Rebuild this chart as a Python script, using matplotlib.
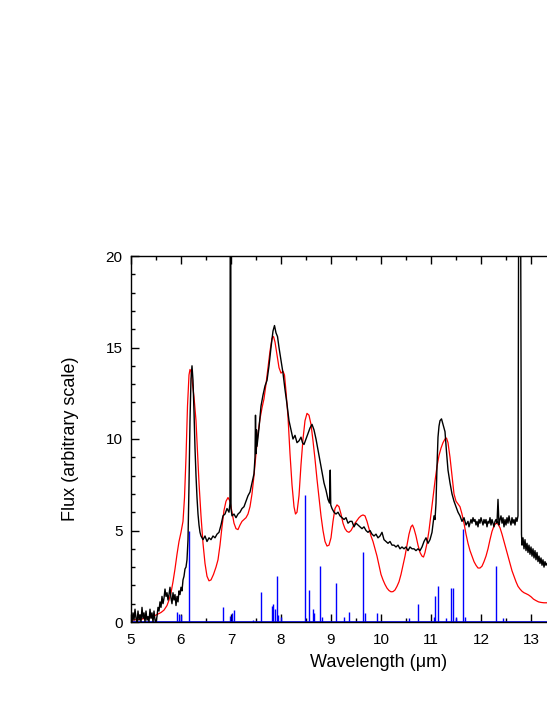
import matplotlib
matplotlib.use("Agg")
import matplotlib.pyplot as plt
from matplotlib.ticker import MultipleLocator

plt.rcParams['font.family'] = ['Liberation Sans', 'DejaVu Sans']

# observed spectrum (black)
obs_wl = [5.00, 5.02, 5.04, 5.06, 5.08, 5.10, 5.12, 5.14, 5.16, 5.18, 5.20, 5.22, 5.24, 5.26, 5.28,
          5.30, 5.32, 5.34, 5.36, 5.38, 5.40, 5.42, 5.44, 5.46, 5.48, 5.50, 5.52, 5.54, 5.56, 5.58,
          5.60, 5.62, 5.64, 5.66, 5.68, 5.70, 5.72, 5.74, 5.76, 5.78, 5.80, 5.82, 5.84, 5.86, 5.88,
          5.90, 5.92, 5.94, 5.96, 5.98, 6.00, 6.02, 6.04, 6.06, 6.08, 6.10, 6.12, 6.14, 6.16, 6.18,
          6.20, 6.22, 6.24, 6.26, 6.28, 6.30, 6.32, 6.34, 6.36, 6.38, 6.40, 6.44, 6.48, 6.52, 6.56,
          6.60, 6.64, 6.68, 6.72, 6.76, 6.80, 6.84, 6.88, 6.92, 6.96, 6.98, 6.985, 6.995, 7.00, 7.02,
          7.06, 7.10, 7.14, 7.18, 7.22, 7.26, 7.30, 7.34, 7.38, 7.42, 7.46, 7.48, 7.49, 7.50, 7.51,
          7.52, 7.56, 7.60, 7.64, 7.68, 7.72, 7.76, 7.80, 7.84, 7.87, 7.90, 7.93, 7.96, 8.00, 8.04,
          8.08, 8.12, 8.16, 8.20, 8.24, 8.28, 8.32, 8.36, 8.40, 8.43, 8.46, 8.50, 8.54, 8.58, 8.62,
          8.66, 8.70, 8.74, 8.78, 8.82, 8.86, 8.90, 8.94, 8.97, 8.985, 8.995, 9.02, 9.06, 9.10, 9.14,
          9.18, 9.22, 9.26, 9.30, 9.34, 9.38, 9.42, 9.46, 9.50, 9.54, 9.58, 9.62, 9.66, 9.70, 9.74,
          9.78, 9.82, 9.86, 9.90, 9.94, 9.98, 10.02, 10.06, 10.10, 10.14, 10.18, 10.22, 10.26, 10.30,
          10.34, 10.38, 10.42, 10.46, 10.50, 10.54, 10.58, 10.62, 10.66, 10.70, 10.74, 10.78, 10.82,
          10.86, 10.90, 10.94, 10.98, 11.02, 11.06, 11.08, 11.10, 11.12, 11.14, 11.16, 11.18, 11.21,
          11.24, 11.28, 11.31, 11.34, 11.38, 11.42, 11.46, 11.50, 11.54, 11.58, 11.62, 11.66, 11.70,
          11.74, 11.76, 11.78, 11.80, 11.82, 11.84, 11.86, 11.88, 11.90, 11.92, 11.94, 11.96, 11.98,
          12.00, 12.02, 12.04, 12.06, 12.08, 12.10, 12.12, 12.14, 12.16, 12.18, 12.20, 12.22, 12.24,
          12.26, 12.28, 12.30, 12.32, 12.34, 12.36, 12.38, 12.40, 12.42, 12.44, 12.46, 12.48, 12.50,
          12.52, 12.54, 12.56, 12.58, 12.60, 12.62, 12.64, 12.66, 12.68, 12.70, 12.72, 12.74, 12.755,
          12.79, 12.81, 12.82, 12.84, 12.86, 12.88, 12.90, 12.92, 12.94, 12.96, 12.98, 13.00, 13.02,
          13.04, 13.06, 13.08, 13.10, 13.12, 13.14, 13.16, 13.18, 13.20, 13.22, 13.24, 13.26, 13.28,
          13.30, 13.32]
obs_flux = [0.3, 0.0, 0.5, 0.1, 0.7, 0.2, 0.0, 0.6, 0.1, 0.4, 0.0, 0.8, 0.2, 0.5, 0.0,
            0.6, 0.1, 0.3, 0.0, 0.7, 0.2, 0.5, 0.0, 0.6, 0.1, 0.0, 0.3, 0.8, 0.6, 1.1,
            0.8, 1.4, 1.0, 1.3, 1.8, 1.4, 1.6, 1.2, 1.5, 1.9, 1.3, 1.0, 1.6, 1.2, 1.5,
            0.9, 1.4, 1.1, 1.7, 1.5, 1.9, 1.7, 2.3, 2.5, 2.9, 3.0, 3.4, 4.5, 7.5, 11.0,
            13.3, 14.0, 13.2, 11.5, 9.5, 8.0, 6.8, 5.9, 5.3, 4.9, 4.7, 4.5, 4.7, 4.4, 4.6,
            4.5, 4.7, 4.6, 4.8, 4.9, 5.3, 5.8, 5.9, 6.2, 6.0, 6.5, 25.0, 25.0, 6.2, 5.8,
            5.9, 5.7, 5.9, 6.0, 6.2, 6.3, 6.6, 6.9, 7.1, 7.6, 8.1, 9.0, 11.3, 9.2, 10.5,
            9.6, 10.6, 11.8, 12.4, 12.9, 13.2, 14.0, 15.0, 15.9, 16.2, 15.8, 15.6, 15.0, 14.3, 13.6,
            12.7, 11.9, 11.0, 10.5, 10.0, 10.2, 9.8, 9.9, 10.1, 9.8, 9.7, 10.0, 10.3, 10.6, 10.8,
            10.5, 10.0, 9.4, 8.8, 8.2, 7.6, 7.2, 6.7, 6.5, 8.3, 6.4, 6.2, 6.0, 5.9, 6.0,
            5.8, 5.7, 5.6, 5.7, 5.4, 5.5, 5.5, 5.2, 5.4, 5.3, 5.2, 5.1, 5.2, 5.0, 4.9,
            5.0, 4.8, 4.7, 4.8, 4.6, 4.7, 4.9, 4.5, 4.4, 4.3, 4.4, 4.2, 4.2, 4.1,
            4.2, 4.0, 4.1, 4.0, 4.1, 3.9, 4.1, 4.0, 4.0, 3.9, 4.0, 3.9, 4.1,
            4.4, 4.6, 4.3, 4.5, 4.9, 5.8, 5.6, 6.5, 8.5, 10.1, 10.7, 11.0, 11.1,
            10.8, 10.4, 9.3, 8.3, 7.6, 7.0, 6.6, 6.3, 6.0, 5.8, 5.5, 5.7, 5.3,
            5.5, 5.2, 5.4, 5.6, 5.4, 5.7, 5.5, 5.6, 5.3, 5.5, 5.2, 5.6, 5.4,
            5.7, 5.5, 5.3, 5.6, 5.4, 5.6, 5.2, 5.5, 5.4, 5.7, 5.3, 5.6, 5.4,
            5.2, 5.5, 5.6, 5.4, 6.7, 5.3, 5.6, 5.8, 5.4, 5.7, 5.2, 5.6, 5.3,
            5.7, 5.4, 5.8, 5.5, 5.3, 5.7, 5.4, 5.6, 5.3, 5.7, 5.5, 5.8, 25.0,
            25.0, 4.8, 4.2, 4.6, 4.0, 4.5, 3.9, 4.3, 3.8, 4.2, 3.7, 4.1, 3.6,
            4.0, 3.5, 3.9, 3.4, 3.8, 3.3, 3.6, 3.2, 3.5, 3.1, 3.4, 3.0, 3.3,
            3.1, 3.2]

# model spectrum (red)
mod_wl = [5.00, 5.20, 5.40, 5.50, 5.60, 5.66, 5.72, 5.76, 5.80, 5.84, 5.88, 5.92, 5.96, 6.00,
          6.04, 6.07, 6.10, 6.13, 6.16, 6.18, 6.20, 6.23, 6.26, 6.30, 6.33, 6.36, 6.40, 6.44,
          6.48, 6.52, 6.56, 6.60, 6.65, 6.70, 6.74, 6.78, 6.82, 6.86, 6.90, 6.94, 6.98, 7.02,
          7.06, 7.10, 7.14, 7.18, 7.22, 7.26, 7.30, 7.34, 7.38, 7.42, 7.46, 7.50, 7.54, 7.58,
          7.62, 7.66, 7.70, 7.74, 7.78, 7.82, 7.85, 7.88, 7.92, 7.96, 8.00, 8.04, 8.07, 8.10,
          8.14, 8.18, 8.22, 8.26, 8.29, 8.32, 8.36, 8.40, 8.44, 8.48, 8.52, 8.56, 8.60, 8.64,
          8.68, 8.72, 8.76, 8.80, 8.84, 8.88, 8.92, 8.96, 9.00, 9.04, 9.08, 9.12, 9.16, 9.20,
          9.24, 9.28, 9.32, 9.36, 9.40, 9.44, 9.48, 9.52, 9.56, 9.60, 9.64, 9.68, 9.72, 9.76,
          9.80, 9.84, 9.88, 9.92, 9.96, 10.00, 10.04, 10.08, 10.12, 10.16, 10.20, 10.24, 10.28,
          10.32, 10.36, 10.40, 10.44, 10.48, 10.52, 10.56, 10.60, 10.63, 10.66, 10.70, 10.74,
          10.78, 10.82, 10.85, 10.88, 10.92, 10.96, 11.00, 11.04, 11.08, 11.12, 11.16, 11.20,
          11.24, 11.28, 11.31, 11.34, 11.38, 11.42, 11.46, 11.50, 11.54, 11.58, 11.62, 11.66,
          11.70, 11.74, 11.78, 11.82, 11.86, 11.90, 11.94, 11.98, 12.02, 12.06, 12.10, 12.14,
          12.18, 12.22, 12.26, 12.30, 12.34, 12.38, 12.42, 12.46, 12.50, 12.54, 12.58, 12.62,
          12.66, 12.70, 12.74, 12.78, 12.82, 12.86, 12.90, 12.95, 13.00, 13.05, 13.10, 13.15,
          13.20, 13.26, 13.32]
mod_flux = [0.10, 0.15, 0.27, 0.38, 0.52, 0.65, 0.9, 1.2, 1.6, 2.2, 2.9, 3.7, 4.4, 4.9,
            5.5, 6.8, 9.0, 11.8, 13.5, 13.8, 13.7, 13.0, 12.3, 11.0, 9.3, 7.6, 5.8, 4.3,
            3.2, 2.5, 2.25, 2.3, 2.6, 3.0, 3.4, 4.2, 5.2, 6.1, 6.6, 6.8, 6.6, 6.0,
            5.4, 5.1, 5.05, 5.3, 5.5, 5.6, 5.7, 5.9, 6.3, 7.0, 8.0, 9.2, 10.3, 11.1,
            11.7, 12.2, 13.0, 13.9, 14.8, 15.5, 15.6, 15.3, 14.6, 13.9, 13.6, 13.7, 13.5, 12.6,
            11.2, 9.2, 7.5, 6.3, 5.9, 6.0, 6.9, 8.6, 10.0, 11.0, 11.4, 11.3, 10.8, 9.9,
            8.9, 7.8, 6.8, 5.8, 5.0, 4.4, 4.15, 4.2, 4.6, 5.5, 6.2, 6.4, 6.3, 5.9,
            5.4, 5.1, 4.95, 4.9, 5.0, 5.2, 5.4, 5.55, 5.7, 5.8, 5.85, 5.8, 5.5, 5.1,
            4.7, 4.4, 4.0, 3.6, 3.1, 2.6, 2.3, 2.05, 1.85, 1.72, 1.65, 1.66, 1.75,
            1.95, 2.2, 2.6, 3.1, 3.6, 4.2, 4.8, 5.2, 5.3, 5.1, 4.7, 4.2,
            3.8, 3.6, 3.55, 3.8, 4.3, 5.0, 5.9, 6.8, 7.7, 8.5, 9.1, 9.5,
            9.8, 10.0, 10.05, 9.8, 9.0, 8.0, 7.0, 6.6, 6.45, 6.3, 5.9, 5.4,
            4.8, 4.3, 3.9, 3.6, 3.3, 3.1, 2.95, 2.95, 3.05, 3.3, 3.6, 4.0,
            4.5, 4.95, 5.25, 5.4, 5.35, 5.15, 4.8, 4.4, 4.0, 3.6, 3.2, 2.8,
            2.5, 2.2, 1.95, 1.8, 1.68, 1.6, 1.55, 1.48, 1.38, 1.25, 1.17, 1.1,
            1.07, 1.05, 1.05]

# calculated stick spectrum (blue)
stick_wl = [5.93, 5.97, 6.00, 6.17, 6.85, 6.98, 7.02, 7.07, 7.45, 7.61, 7.82, 7.85, 7.88, 7.92,
            7.95, 8.00, 8.48, 8.57, 8.63, 8.66, 8.79, 8.83, 9.10, 9.26, 9.36, 9.65, 9.68, 9.93,
            10.55, 10.73, 11.05, 11.08, 11.13, 11.30, 11.41, 11.45, 11.50, 11.65, 11.68, 12.30, 12.45]
stick_int = [0.56, 0.45, 0.4, 5.0, 0.84, 0.35, 0.5, 0.65, 0.1, 1.65, 0.9, 1.0, 0.7, 2.5,
             0.4, 0.3, 6.95, 1.75, 0.7, 0.5, 3.06, 0.3, 2.15, 0.3, 0.56, 3.8, 0.5, 0.5,
             0.2, 1.0, 0.3, 1.42, 1.97, 0.2, 1.84, 1.84, 0.3, 5.1, 0.3, 3.06, 0.2]

fig = plt.figure(figsize=(5.47, 7.08), dpi=100)
ax = fig.add_axes([131 / 547, 86 / 708, 1 - 131 / 547, 366 / 708])

ax.vlines(stick_wl, 0, stick_int, color="blue", lw=1.0, zorder=2)
ax.plot(mod_wl, mod_flux, color="red", lw=0.9, zorder=3)
ax.plot(obs_wl, obs_flux, color="black", lw=1.0, zorder=4)
ax.axhline(0, color="blue", lw=1.2, zorder=2)

ax.set_xlim(5, 13.32)
ax.set_ylim(0, 20)
ax.xaxis.set_major_locator(MultipleLocator(1))
ax.xaxis.set_minor_locator(MultipleLocator(0.5))
ax.yaxis.set_major_locator(MultipleLocator(5))
ax.yaxis.set_minor_locator(MultipleLocator(1))
ax.tick_params(which="both", direction="in", top=True, right=False, labelsize=11, width=1.0)
ax.tick_params(which="major", length=6)
ax.tick_params(which="minor", length=3)
ax.tick_params(axis="x", which="major", pad=8)
ax.tick_params(axis="y", which="major", pad=6)
ax.spines["right"].set_visible(False)
for s in ["left", "top", "bottom"]:
    ax.spines[s].set_linewidth(1.0)

ax.set_xlabel("Wavelength (\u03bcm)", fontsize=13)
ax.set_ylabel("Flux (arbitrary scale)", fontsize=13)
ax.xaxis.set_label_coords(0.594, -0.088)
ax.yaxis.set_label_coords(-0.125, 0.5)

fig.savefig("out.png", dpi=100)
